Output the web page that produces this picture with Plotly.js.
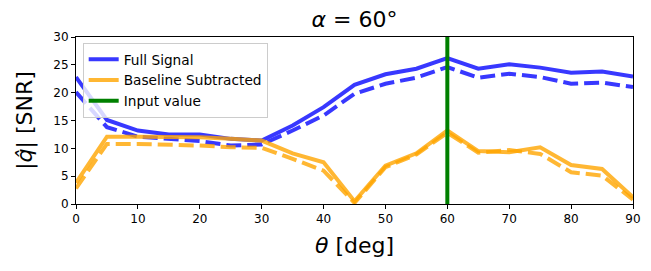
<!DOCTYPE html>
<html>
<head>
<meta charset="utf-8">
<script src="https://cdn.plot.ly/plotly-3.0.1.min.js"></script>
<style>html,body{margin:0;padding:0;background:#fff;}#chart{width:651px;height:271px;}</style>
</head>
<body>
<div id="chart"></div>
<script>
const theta = [0,5,10,15,20,25,30,35,40,45,50,55,60,65,70,75,80,85,90];
const fullSignal = [22.8,15.1,13.2,12.5,12.5,11.7,11.4,14.1,17.4,21.4,23.3,24.3,26.2,24.3,25.1,24.5,23.6,23.8,22.9];
const fullSignalDashed = [20.1,13.8,12.1,11.7,11.3,10.5,10.7,13.2,15.9,19.8,21.6,22.7,24.6,22.7,23.4,22.8,21.6,21.8,21.0];
const baselineSub = [3.8,12.1,12.1,12.0,12.0,11.7,11.4,9.1,7.5,0.5,6.9,9.1,13.2,9.5,9.3,10.2,7.0,6.3,1.2];
const baselineSubDashed = [2.8,10.8,10.8,10.7,10.5,10.2,10.1,8.1,6.0,0.2,6.6,8.9,12.8,9.2,9.7,9.0,5.7,5.1,0.8];
const inputValue = [60];
const yLimits = [0, 30];
const xLimits = [0, 90];
const xTicks = [0,10,20,30,40,50,60,70,80,90];
const yTicks = [0,5,10,15,20,25,30];

const blue = 'rgba(0,0,255,0.78)';
const orange = 'rgba(255,165,0,0.8)';
const lw = 4;
const dashPat = '15px,6px';

const traces = [
  {x: theta, y: fullSignal, mode: 'lines', name: 'Full Signal', line: {color: blue, width: lw}},
  {x: theta, y: fullSignalDashed, mode: 'lines', showlegend: false, line: {color: blue, width: lw, dash: dashPat}},
  {x: theta, y: baselineSub, mode: 'lines', name: 'Baseline Subtracted', line: {color: orange, width: lw}},
  {x: theta, y: baselineSubDashed, mode: 'lines', showlegend: false, line: {color: orange, width: lw, dash: dashPat}},
  {x: [inputValue[0], inputValue[0]], y: yLimits, mode: 'lines', name: 'Input value', line: {color: '#008000', width: lw}}
];

const axisCommon = {
  showline: true, mirror: true, linecolor: '#000', linewidth: 1,
  ticks: 'outside', ticklen: 4, tickwidth: 1, tickcolor: '#000',
  showgrid: false, zeroline: false,
  tickfont: {family: 'DejaVu Sans', size: 12, color: '#000'}
};

const layout = {
  width: 651, height: 271,
  margin: {l: 76, r: 18, t: 37, b: 67},
  paper_bgcolor: '#fff', plot_bgcolor: '#fff',
  font: {family: 'DejaVu Sans', color: '#000'},
  title: {text: '<i>α</i> = 60°', font: {family: 'DejaVu Sans', size: 22, color: '#000'}, x: 0.5, xref: 'paper', xanchor: 'center', y: 0.93, yanchor: 'middle'},
  xaxis: Object.assign({}, axisCommon, {
    range: xLimits, tickvals: xTicks,
    title: {text: '<i>θ</i> [deg]', font: {family: 'DejaVu Sans', size: 22, color: '#000'}, standoff: 12}
  }),
  yaxis: Object.assign({}, axisCommon, {
    range: yLimits, tickvals: yTicks,
    title: {text: '|<i>q̂</i>| [SNR]', font: {family: 'DejaVu Sans', size: 22, color: '#000'}, standoff: 14}
  }),
  showlegend: true,
  legend: {
    x: 0.012, y: 0.965, xanchor: 'left', yanchor: 'top',
    bgcolor: 'rgba(255,255,255,0.8)', bordercolor: '#cccccc', borderwidth: 1,
    font: {family: 'DejaVu Sans', size: 13.7, color: '#000'},
    itemwidth: 30
  }
};

Plotly.newPlot('chart', traces, layout, {displayModeBar: false, staticPlot: true});
</script>
</body>
</html>
